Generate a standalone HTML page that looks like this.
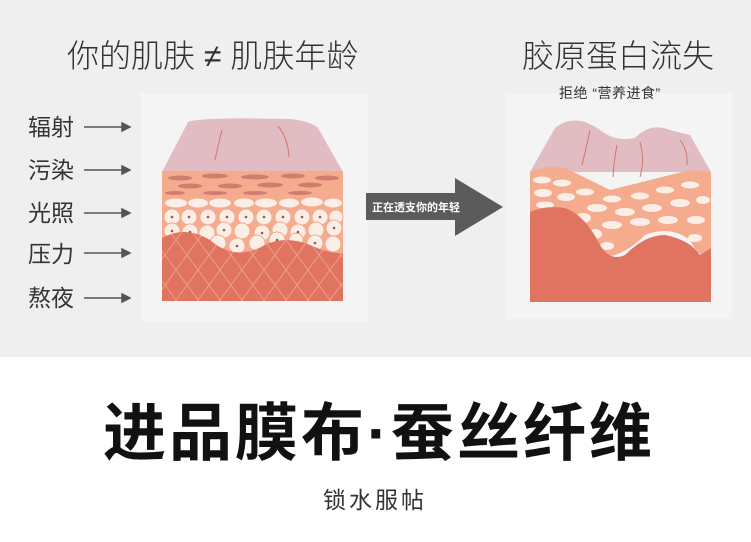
<!DOCTYPE html>
<html><head><meta charset="utf-8"><style>
body{margin:0;width:751px;height:542px;overflow:hidden;background:#fff;font-family:"Liberation Sans","Noto Sans CJK SC",sans-serif}
</style></head><body>
<svg width="751" height="542" xmlns="http://www.w3.org/2000/svg" style="position:absolute;left:0;top:0">
<defs>
<pattern id="dia" width="22" height="30" patternUnits="userSpaceOnUse">
<path d="M0 0L22 30M22 0L0 30" stroke="#ec9d8c" stroke-width="1"/>
</pattern>
</defs>
<rect x="0" y="0" width="751" height="357" fill="#efefef"/>
<rect x="141" y="93" width="227" height="228" fill="#f4f4f4"/>
<rect x="506" y="93" width="226" height="226" fill="#f4f4f4"/>
<g font-family="Liberation Sans,Noto Sans CJK SC,sans-serif" fill="#333">
<text x="67" y="67" font-size="32" font-weight="300">你的肌肤 ≠ 肌肤年龄</text>
<text x="522" y="67" font-size="32" font-weight="300">胶原蛋白流失</text>
<text x="559" y="98" font-size="14" letter-spacing="0.5">拒绝 “营养进食”</text>
<g font-size="23" fill="#333">
<text x="28" y="135">辐射</text><text x="28" y="178">污染</text><text x="28" y="221">光照</text><text x="28" y="262">压力</text><text x="28" y="306">熬夜</text>
</g>
</g>
<g stroke="#555" stroke-width="1.5" fill="#555">
<line x1="84" y1="127" x2="124" y2="127"/><path d="M130 127l-8-4v8z"/>
<line x1="84" y1="170" x2="124" y2="170"/><path d="M130 170l-8-4v8z"/>
<line x1="84" y1="213" x2="124" y2="213"/><path d="M130 213l-8-4v8z"/>
<line x1="84" y1="253" x2="124" y2="253"/><path d="M130 253l-8-4v8z"/>
<line x1="84" y1="298" x2="124" y2="298"/><path d="M130 298l-8-4v8z"/>
</g>
<!-- left skin -->
<path d="M162 172L188 122Q200 117 290 119Q310 121 318 128L343 172Z" fill="#e2bcc3"/>
<path d="M222 130q-5 20-7 30M278 126q10 12 11 31" stroke="#c97a6a" fill="none"/>
<rect x="162" y="171" width="181" height="130" fill="#f5ab8d"/>
<g fill="#cf7d6f">
<ellipse cx="180" cy="178" rx="12" ry="2.5"/><ellipse cx="215" cy="176" rx="13" ry="2.5"/><ellipse cx="255" cy="177" rx="14" ry="2.5"/><ellipse cx="293" cy="176" rx="12" ry="2.5"/><ellipse cx="327" cy="178" rx="12" ry="2.5"/>
<ellipse cx="190" cy="186" rx="12" ry="2.5"/><ellipse cx="230" cy="186" rx="12" ry="2.5"/><ellipse cx="270" cy="185" rx="13" ry="2.5"/><ellipse cx="310" cy="185" rx="12" ry="2.5"/>
<ellipse cx="175" cy="193" rx="10" ry="2"/><ellipse cx="215" cy="193" rx="12" ry="2"/><ellipse cx="255" cy="193" rx="12" ry="2"/><ellipse cx="300" cy="193" rx="12" ry="2"/>
</g>
<g fill="#fbeee6">
<ellipse cx="176" cy="203" rx="11" ry="4.5"/><ellipse cx="198" cy="203" rx="10" ry="4.5"/><ellipse cx="220" cy="203" rx="11" ry="4.5"/><ellipse cx="244" cy="203" rx="10" ry="4.5"/><ellipse cx="266" cy="203" rx="11" ry="4.5"/><ellipse cx="289" cy="203" rx="10" ry="4.5"/><ellipse cx="312" cy="202" rx="11" ry="4.5"/><ellipse cx="333" cy="203" rx="9" ry="4.5"/>
</g>
<g fill="#fbeee6" stroke="#f5ab8d" stroke-width="1">
<circle cx="172" cy="217" r="8"/><circle cx="189" cy="217" r="8"/><circle cx="208" cy="217" r="8"/><circle cx="227" cy="217" r="8"/><circle cx="246" cy="217" r="8"/><circle cx="264" cy="217" r="8"/><circle cx="283" cy="217" r="8"/><circle cx="302" cy="217" r="8"/><circle cx="320" cy="217" r="8"/><circle cx="336" cy="217" r="7"/>
<circle cx="172" cy="231" r="8"/><circle cx="190" cy="232" r="8"/><circle cx="207" cy="233" r="8"/><circle cx="224" cy="230" r="8"/><circle cx="242" cy="231" r="8"/><circle cx="262" cy="233" r="8"/><circle cx="280" cy="230" r="8"/><circle cx="298" cy="232" r="8"/><circle cx="316" cy="230" r="8"/><circle cx="334" cy="228" r="8"/>
<circle cx="218" cy="243" r="8"/><circle cx="237" cy="246" r="8"/><circle cx="257" cy="243" r="8"/><circle cx="277" cy="240" r="8"/><circle cx="296" cy="240" r="7"/><circle cx="315" cy="243" r="8"/><circle cx="333" cy="244" r="8"/>
</g>
<g fill="#a5524a">
<circle cx="172" cy="217" r="1.3"/><circle cx="189" cy="217" r="1.3"/><circle cx="208" cy="217" r="1.3"/><circle cx="227" cy="217" r="1.3"/><circle cx="246" cy="217" r="1.3"/><circle cx="264" cy="217" r="1.3"/><circle cx="283" cy="217" r="1.3"/><circle cx="302" cy="217" r="1.3"/><circle cx="320" cy="217" r="1.3"/>
<circle cx="172" cy="231" r="1.3"/><circle cx="190" cy="232" r="1.3"/><circle cx="224" cy="230" r="1.3"/><circle cx="262" cy="233" r="1.3"/><circle cx="298" cy="232" r="1.3"/><circle cx="334" cy="228" r="1.3"/>
<circle cx="237" cy="246" r="1.3"/><circle cx="277" cy="240" r="1.3"/><circle cx="315" cy="243" r="1.3"/>
</g>
<path d="M162 238Q185 225 210 240Q235 262 265 245Q285 235 310 245Q330 254 343 253L343 301L162 301Z" fill="#e07460"/>
<path d="M162 238Q185 225 210 240Q235 262 265 245Q285 235 310 245Q330 254 343 253L343 301L162 301Z" fill="url(#dia)"/>
<!-- arrow -->
<rect x="366" y="193" width="90" height="27" fill="#5b5b5b"/>
<path d="M455 178L503 207L455 236Z" fill="#5b5b5b"/>
<text x="372" y="211" font-size="11" fill="#fff" font-weight="bold">正在透支你的年轻</text>
<!-- right skin -->
<path d="M530 172L555 128Q575 112 600 130Q615 142 635 138Q650 122 670 130L690 135L711 172Z" fill="#e2bcc3"/>
<path d="M590 130q-3 15-8 35M617 145q-3 15-4 32M640 142q5 18 0 35M680 140q8 10 7 25" stroke="#c97a6a" fill="none"/>
<path d="M530 172Q545 165 565 168Q590 180 610 190Q650 180 690 170L711 172L711 255Q700 260 690 240Q670 225 645 235Q630 250 615 255Q600 260 590 230Q575 210 530 220Z" fill="#f5ab8d"/>
<g fill="#fbeee6">
<ellipse cx="542" cy="180" rx="9" ry="3.5"/><ellipse cx="562" cy="183" rx="9" ry="3.5"/><ellipse cx="585" cy="192" rx="9" ry="3.5"/><ellipse cx="612" cy="199" rx="9" ry="3.5"/><ellipse cx="640" cy="196" rx="9" ry="3.5"/><ellipse cx="665" cy="190" rx="9" ry="3.5"/><ellipse cx="690" cy="185" rx="9" ry="3.5"/>
<ellipse cx="543" cy="193" rx="9" ry="4"/><ellipse cx="566" cy="197" rx="9" ry="4"/><ellipse cx="597" cy="208" rx="10" ry="4"/><ellipse cx="625" cy="212" rx="10" ry="4"/><ellipse cx="652" cy="208" rx="10" ry="4"/><ellipse cx="680" cy="203" rx="10" ry="4"/><ellipse cx="703" cy="200" rx="7" ry="4"/>
<ellipse cx="545" cy="205" rx="9" ry="3.5"/><ellipse cx="583" cy="218" rx="8" ry="5"/><ellipse cx="612" cy="225" rx="10" ry="4"/><ellipse cx="640" cy="222" rx="10" ry="4"/><ellipse cx="668" cy="220" rx="10" ry="4"/><ellipse cx="696" cy="220" rx="9" ry="4"/>
<ellipse cx="595" cy="234" rx="7" ry="5"/><ellipse cx="607" cy="246" rx="7" ry="4"/><ellipse cx="695" cy="238" rx="7" ry="4"/>
</g>
<path d="M530 212Q545 205 565 208Q585 215 600 245Q610 262 625 255Q645 235 665 235Q690 240 700 255L711 248L711 302L530 302Z" fill="#e07460"/>
<text x="379" y="455" font-size="63" font-weight="bold" fill="#111" text-anchor="middle" letter-spacing="3" font-family="Liberation Sans,Noto Sans CJK SC,sans-serif">进品膜布·蚕丝纤维</text>
<text x="375" y="508" font-size="23" fill="#333" text-anchor="middle" letter-spacing="3" font-family="Liberation Sans,Noto Sans CJK SC,sans-serif">锁水服帖</text>
</svg>
</body></html>
